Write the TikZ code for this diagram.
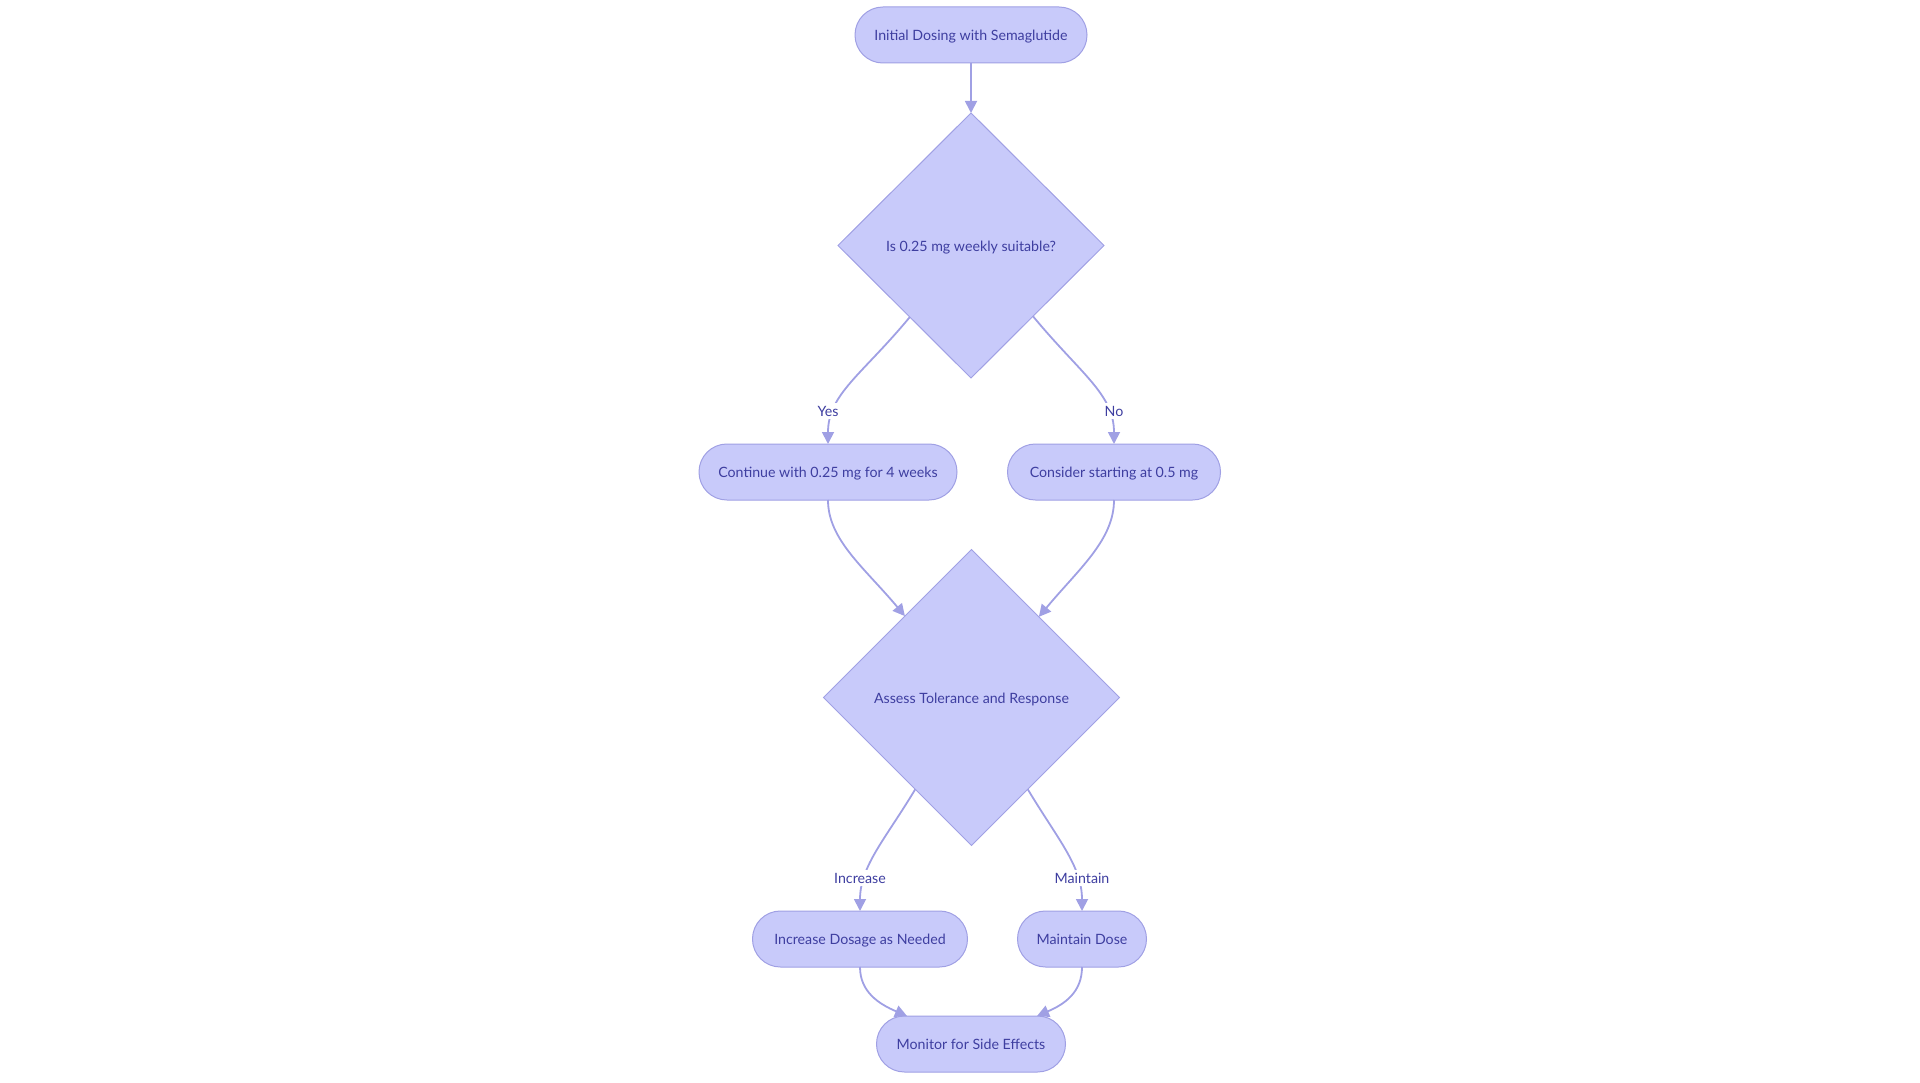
\documentclass[tikz,border=0pt]{standalone}
\usepackage{fontspec}
\setmainfont{Lato}
\usetikzlibrary{shapes.geometric,arrows.meta,calc}
\definecolor{nodefill}{RGB}{200,202,250}
\definecolor{nodeline}{RGB}{160,160,228}
\definecolor{edgec}{RGB}{160,160,228}
\definecolor{textc}{RGB}{62,62,160}
\tikzset{
  pill/.style={draw=nodeline, fill=nodefill, line width=1pt, rectangle,
    rounded corners=27.9pt, minimum height=56pt, inner sep=0pt, outer sep=0pt,
    text height=12pt, text depth=0.6pt,
    text=textc, font=\fontsize{14.2}{17}\selectfont},
  decision/.style={draw=nodeline, fill=nodefill, line width=1pt, diamond, aspect=1,
    inner sep=0pt, outer sep=0pt, text height=12pt, text depth=0.6pt,
    text=textc, font=\fontsize{14.2}{17}\selectfont},
  flow/.style={draw=edgec, line width=1.8pt, -{Triangle[length=12pt,width=12pt]}},
  elabel/.style={fill=white, inner sep=2pt, text height=12pt, text depth=0.6pt,
    text=textc, font=\fontsize{14.2}{17}\selectfont}
}
\begin{document}
\begin{tikzpicture}[x=1pt,y=-1pt]
\useasboundingbox (0,0) rectangle (1920,1083);
\node[pill, minimum width=232pt] (top) at (971,35) {Initial Dosing with Semaglutide};
\node[decision, minimum width=266pt, minimum height=265pt] (d1) at (971,245.5) {Is 0.25 mg weekly suitable?};
\node[pill, minimum width=258pt] (cont) at (828,472) {Continue with 0.25 mg for 4 weeks};
\node[pill, minimum width=213pt] (cons) at (1114,472) {Consider starting at 0.5 mg};
\node[decision, minimum width=296pt, minimum height=296pt] (d2) at (971.5,697.5) {Assess Tolerance and Response};
\node[pill, minimum width=215pt] (inc) at (860,939) {Increase Dosage as Needed};
\node[pill, minimum width=129pt] (main) at (1082,939) {Maintain Dose};
\node[pill, minimum width=189pt] (mon) at (971,1044) {Monitor for Side Effects};

\draw[flow] (top.south) -- (d1.north);
\draw[flow] ($(d1.south)!0.46!(d1.west)$) .. controls +(-48,58) and +(0,-50) .. (cont.north);
\draw[flow] ($(d1.south)!0.466!(d1.east)$) .. controls +(48,58) and +(0,-50) .. (cons.north);
\node[elabel] (lyes) at ($(cont.north)+(0,-33)$) {Yes};
\node[elabel] (lno) at ($(cons.north)+(0,-33)$) {No};

\draw[flow] (cont.south) .. controls +(0,40) and +(-40,-48) .. ($(d2.north)!0.45!(d2.west)$);
\draw[flow] (cons.south) .. controls +(0,40) and +(40,-48) .. ($(d2.north)!0.455!(d2.east)$);

\draw[flow] ($(d2.south)!0.38!(d2.west)$) .. controls +(-30,50) and +(0,-45) .. (inc.north);
\draw[flow] ($(d2.south)!0.38!(d2.east)$) .. controls +(30,50) and +(0,-45) .. (main.north);
\node[elabel] (linc) at ($(inc.north)+(0,-33)$) {Increase};
\node[elabel] (lmain) at ($(main.north)+(0,-33)$) {Maintain};

\draw[flow] (inc.south) .. controls +(0,25) and +(-28,-12) .. ($(mon.north)+(-64,0)$);
\draw[flow] (main.south) .. controls +(0,25) and +(28,-12) .. ($(mon.north)+(66,0)$);
\end{tikzpicture}
\end{document}
